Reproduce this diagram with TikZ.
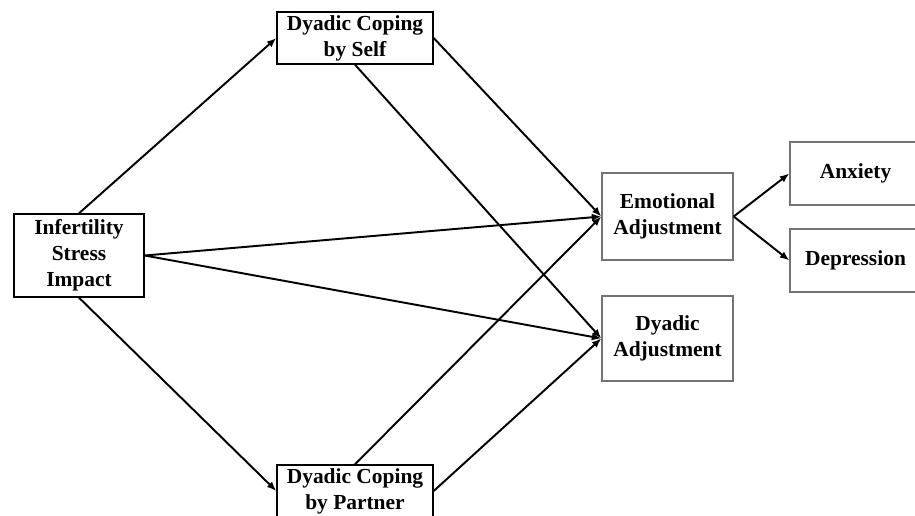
\documentclass[tikz,border=0pt]{standalone}
\usepackage{fontspec}
\setmainfont{Liberation Serif}
\usetikzlibrary{arrows.meta}

\tikzset{
  varbox/.style={draw=black, line width=0.8pt, rectangle, align=center, inner sep=0pt,
    font=\fontsize{12.2}{14.8}\selectfont\bfseries},
  outbox/.style={varbox, draw=black!55},
  path/.style={-{Latex[length=1.9mm,width=1.5mm]}, line width=1.1pt, black}
}

\begin{document}
\begin{tikzpicture}[x=0.02cm, y=-0.02cm]
    \useasboundingbox (0,0) rectangle (915,516);
    \clip (0,0) rectangle (915,516);
    \node[varbox, minimum width=2.6cm, minimum height=1.66cm] (isi) at (79,255.5) {Infertility\\Stress\\Impact};
    \node[varbox, minimum width=3.12cm, minimum height=1.04cm] (dcs) at (355,38) {Dyadic Coping\\by Self};
    \node[varbox, minimum width=3.12cm, minimum height=1.04cm] (dcp) at (355,491) {Dyadic Coping\\by Partner};
    \node[outbox, minimum width=2.62cm, minimum height=1.74cm] (ea) at (667.5,216.5) {Emotional\\Adjustment};
    \node[outbox, minimum width=2.62cm, minimum height=1.7cm] (da) at (667.5,338.5) {Dyadic\\Adjustment};
    \node[outbox, minimum width=2.62cm, minimum height=1.26cm] (anx) at (855.5,173.5) {Anxiety};
    \node[outbox, minimum width=2.62cm, minimum height=1.26cm] (dep) at (855.5,260.5) {Depression};
    \draw[path] (isi.north) -- (dcs.west);
    \draw[path] (isi.south) -- (dcp.west);
    \draw[path] (isi.east) -- (ea.west);
    \draw[path] (isi.east) -- (da.west);
    \draw[path] (dcs.east) -- (ea.west);
    \draw[path] (dcs.south) -- (da.west);
    \draw[path] (dcp.north) -- (ea.west);
    \draw[path] (dcp.east) -- (da.west);
    \draw[path] (ea.east) -- (anx.west);
    \draw[path] (ea.east) -- (dep.west);
\end{tikzpicture}
\end{document}
